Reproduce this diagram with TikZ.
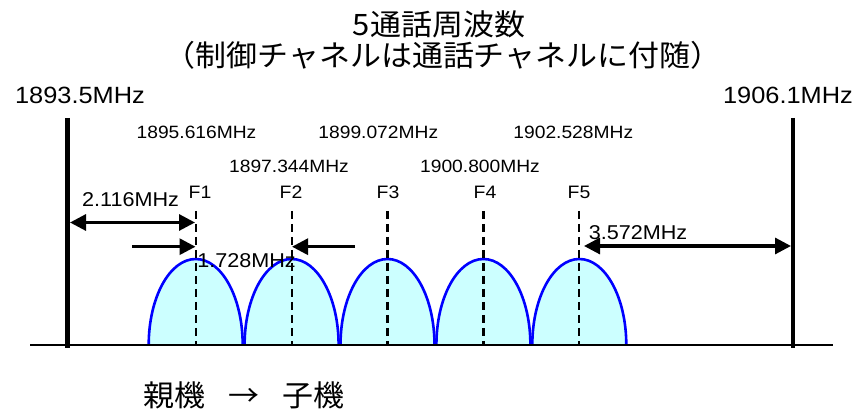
\documentclass[tikz,border=0pt]{standalone}
\usepackage{fontspec}
\setmainfont[FakeStretch=1.08]{Liberation Sans}
\newfontfamily\jp[FakeStretch=1.05]{Noto Sans CJK JP}
\usetikzlibrary{arrows.meta}
\definecolor{bumpfill}{RGB}{204,255,255}
\definecolor{bumpline}{RGB}{0,0,255}
\begin{document}
\begin{tikzpicture}[x=1pt,y=-1pt,
  lbl/.style={inner sep=0pt,anchor=base},
  big/.style={lbl,font=\fontsize{23.5}{28}\selectfont},
  freq/.style={lbl,font=\fontsize{17.8}{21}\selectfont},
  flab/.style={lbl,font=\fontsize{18}{21}\selectfont},
  spanlbl/.style={lbl,font=\fontsize{20}{24}\selectfont},
  cjk/.style={lbl,font=\jp\fontsize{29.5}{34}\selectfont},
  bound/.style={line width=4.8pt},
  axisline/.style={line width=2.6pt},
  chan/.style={line width=2.2pt,dash pattern=on 8pt off 5pt},
  bump/.style={draw=bumpline,fill=bumpfill,line width=2.6pt},
  dimarr/.style={line width=3.1pt,{Triangle[length=16pt,width=16pt]}-{Triangle[length=16pt,width=16pt]}},
  onearr/.style={line width=3.1pt,-{Triangle[length=16pt,width=16pt]}}]
\useasboundingbox (0,0) rectangle (860,411);

% channel bumps
\foreach \i in {1,...,5}{
  \pgfmathsetmacro{\cx}{195.7+95.9*(\i-1)}
  \path[bump] (\cx-47,345) .. controls (\cx-47,345-47.5) and (\cx-26,259) .. (\cx,259)
     .. controls (\cx+26,259) and (\cx+47,345-47.5) .. (\cx+47,345);
}

% channel centre lines
\foreach \i in {1,...,5}{
  \pgfmathsetmacro{\cx}{195.7+95.9*(\i-1)}
  \coordinate (c\i top) at (\cx,211);
  \coordinate (c\i bot) at (\cx,345);
  \draw[chan] (c\i top) -- (c\i bot);
}

% axis and band edges
\coordinate (axL) at (30,345);
\coordinate (axR) at (833,345);
\draw[axisline] (axL) -- (axR);
\coordinate (lTop) at (67.5,118);
\coordinate (lBot) at (67.5,348);
\coordinate (rTop) at (793,118);
\coordinate (rBot) at (793,348);
\draw[bound] (lTop) -- (lBot);
\draw[bound] (rTop) -- (rBot);

% dimension arrows
\coordinate (a1s) at (70,222.5);
\coordinate (a1e) at (195,222.5);
\draw[dimarr] (a1s) -- (a1e);
\coordinate (a2s) at (132,246.7);
\coordinate (a2e) at (195.5,246.7);
\draw[onearr] (a2s) -- (a2e);
\coordinate (a3s) at (355,246.7);
\coordinate (a3e) at (292,246.7);
\draw[onearr] (a3s) -- (a3e);
\coordinate (a4s) at (584,246);
\coordinate (a4e) at (791,246);
\draw[dimarr] (a4s) -- (a4e);

% titles
\node[cjk] (t1) at (439,35.8) {5通話周波数};
\node[cjk] (t2) at (443,66.8) {（制御チャネルは通話チャネルに付随）};

% band edge labels
\node[big] (lo) at (80,104) {1893.5MHz};
\node[big] (hi) at (788,104) {1906.1MHz};

% channel frequencies
\node[freq] (f1v) at (196.5,138.3) {1895.616MHz};
\node[freq] (f3v) at (378.3,138.3) {1899.072MHz};
\node[freq] (f5v) at (573.3,138.3) {1902.528MHz};
\node[freq] (f2v) at (289,173) {1897.344MHz};
\node[freq] (f4v) at (480,173) {1900.800MHz};

% channel names
\node[flab] (F1) at (200,199) {F1};
\node[flab] (F2) at (291,199) {F2};
\node[flab] (F3) at (388,199) {F3};
\node[flab] (F4) at (485,199) {F4};
\node[flab] (F5) at (579,199) {F5};

% spacing labels
\node[spanlbl] (s1) at (130.5,207) {2.116MHz};
\node[spanlbl] (s2) at (246.5,268) {1.728MHz};
\node[spanlbl] (s3) at (638,239.3) {3.572MHz};

% direction
\node[cjk] (dir) at (244,407) {親機\hspace{22.7pt}→\hspace{22.7pt}子機};
\end{tikzpicture}
\end{document}
